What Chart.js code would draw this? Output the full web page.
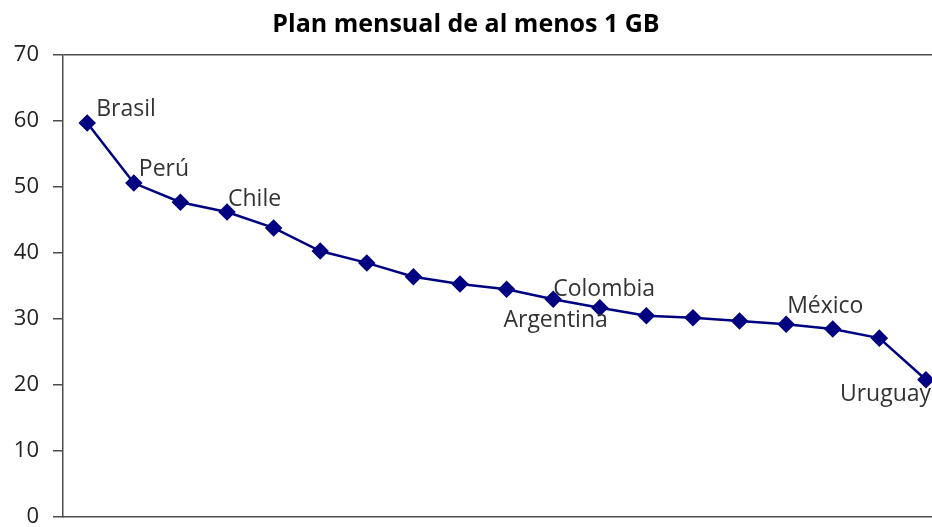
<!DOCTYPE html>
<html>
<head>
<meta charset="utf-8">
<script src="https://cdn.jsdelivr.net/npm/chart.js@4/dist/chart.umd.min.js"></script>
<style>
  html, body { margin: 0; padding: 0; background: #fff; overflow: hidden; }
  #wrap { width: 932px; height: 527px; }
</style>
</head>
<body>
<div id="wrap"><canvas id="c"></canvas></div>
<script>
// Country labels (only the highlighted countries are named on the chart)
const categories = ['Brasil', 'Perú', '', 'Chile', '', '', '', '', '', '',
                    'Colombia', 'Argentina', '', '', '', 'México', '', '', 'Uruguay'];
// Share of monthly plans with at least 1 GB
const values = [59.7, 50.6, 47.7, 46.2, 43.8, 40.3, 38.5, 36.4, 35.3, 34.5,
                33.0, 31.7, 30.5, 30.2, 29.7, 29.2, 28.5, 27.1, 20.8];
const yTicks = [0, 10, 20, 30, 40, 50, 60, 70];

const FONT = '"Open Sans", "Noto Sans", sans-serif';
const AXIS = '#4d4d4d';

// Where each country name sits relative to its marker
const labelPlacement = {
  'Brasil':    { dx: 9,   dy: -14, align: 'left' },
  'Perú':      { dx: 5,   dy: -14, align: 'left' },
  'Chile':     { dx: 1,   dy: -13, align: 'left' },
  'Colombia':  { dx: 0,   dy: -10, align: 'left' },
  'Argentina': { dx: 8,   dy: 13,  align: 'right' },
  'México':    { dx: 1,   dy: -18, align: 'left' },
  'Uruguay':   { dx: -86, dy: 15,  align: 'left' }
};

const countryLabels = {
  id: 'countryLabels',
  afterDatasetsDraw(chart) {
    const ctx = chart.ctx;
    const meta = chart.getDatasetMeta(0);
    ctx.save();
    ctx.font = '23px ' + FONT;
    ctx.fillStyle = '#333333';
    ctx.textBaseline = 'middle';
    categories.forEach((name, i) => {
      if (!name) return;
      const p = labelPlacement[name];
      const pt = meta.data[i];
      ctx.textAlign = p.align;
      ctx.fillText(name, pt.x + p.dx, pt.y + p.dy);
    });
    ctx.restore();
  }
};

new Chart(document.getElementById('c'), {
  type: 'line',
  data: {
    datasets: [{
      label: 'Plan mensual de al menos 1 GB',
      data: values.map((v, i) => ({ x: i, y: v })),
      borderColor: '#000080',
      backgroundColor: '#000080',
      borderWidth: 2.5,
      pointStyle: 'rectRot',
      pointRadius: 7,
      pointHoverRadius: 7,
      tension: 0,
      clip: false
    }]
  },
  options: {
    responsive: true,
    maintainAspectRatio: false,
    animation: false,
    layout: { autoPadding: false, padding: { left: 0, right: 0, top: 0, bottom: 10 } },
    plugins: {
      legend: { display: false },
      tooltip: { enabled: false },
      title: {
        display: true,
        text: 'Plan mensual de al menos 1 GB',
        color: '#000',
        font: { family: FONT, size: 25, weight: 'bold' },
        padding: { top: 10, bottom: 15 }
      }
    },
    scales: {
      x: {
        type: 'linear',
        min: -0.52,
        max: 18.13,
        ticks: { display: false },
        grid: { display: false },
        border: { display: true, color: AXIS, width: 1.5 },
        afterFit(scale) { scale.height = 0; }
      },
      y: {
        min: 0,
        max: 70,
        afterBuildTicks(scale) {
          scale.ticks = yTicks.map(v => ({ value: v }));
        },
        afterFit(scale) {
          scale.width = 63;
          scale.paddingTop = 0;
          scale.paddingBottom = 0;
        },
        ticks: {
          color: '#222',
          padding: 14,
          font: { family: FONT, size: 22 }
        },
        grid: {
          drawOnChartArea: true,
          tickLength: 10,
          lineWidth: 1.5,
          color: (c) => (c.tick && c.tick.value === 70 ? AXIS : 'rgba(0,0,0,0)'),
          tickColor: AXIS
        },
        border: { display: true, color: AXIS, width: 1.5 }
      }
    }
  },
  plugins: [countryLabels]
});
</script>
</body>
</html>
